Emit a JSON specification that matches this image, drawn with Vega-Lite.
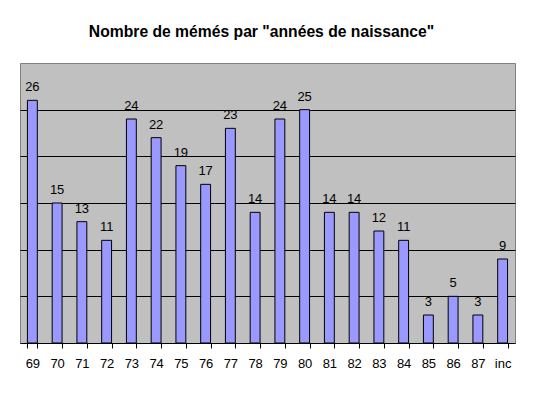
{
  "$schema": "https://vega.github.io/schema/vega-lite/v6.json",
  "width": 495,
  "height": 280,
  "autosize": {"type": "none"},
  "padding": {"left": 20, "top": 63, "right": 19, "bottom": 51},
  "background": "white",
  "title": {
    "text": "Nombre de mémés par \"années de naissance\"",
    "font": "Liberation Sans",
    "fontSize": 15.7,
    "fontWeight": "bold",
    "color": "black",
    "anchor": "middle",
    "dx": -6,
    "offset": 22
  },
  "config": {
    "view": {"fill": "#C0C0C0", "stroke": "#808080", "strokeWidth": 1},
    "font": "Liberation Sans"
  },
  "data": {
    "values": [
      {"annee": "69", "n": 26},
      {"annee": "70", "n": 15},
      {"annee": "71", "n": 13},
      {"annee": "72", "n": 11},
      {"annee": "73", "n": 24},
      {"annee": "74", "n": 22},
      {"annee": "75", "n": 19},
      {"annee": "76", "n": 17},
      {"annee": "77", "n": 23},
      {"annee": "78", "n": 14},
      {"annee": "79", "n": 24},
      {"annee": "80", "n": 25},
      {"annee": "81", "n": 14},
      {"annee": "82", "n": 14},
      {"annee": "83", "n": 12},
      {"annee": "84", "n": 11},
      {"annee": "85", "n": 3},
      {"annee": "86", "n": 5},
      {"annee": "87", "n": 3},
      {"annee": "inc", "n": 9}
    ]
  },
  "encoding": {
    "x": {
      "field": "annee",
      "type": "nominal",
      "sort": null,
      "scale": {"paddingInner": 0.6, "paddingOuter": 0.3},
      "axis": {
        "title": null,
        "labelAngle": 0,
        "labelFont": "Liberation Sans",
        "labelFontSize": 13,
        "labelColor": "black",
        "labelPadding": 9,
        "tickSize": 5,
        "tickColor": "black",
        "domainColor": "black",
        "tickBand": "extent",
        "grid": false
      }
    },
    "y": {
      "field": "n",
      "type": "quantitative",
      "scale": {"domain": [0, 30], "nice": false},
      "axis": {
        "title": null,
        "values": [5, 10, 15, 20, 25],
        "labels": false,
        "ticks": false,
        "domain": false,
        "grid": true,
        "gridColor": "black",
        "gridOpacity": 1,
        "gridWidth": 1
      }
    }
  },
  "layer": [
    {
      "mark": {"type": "bar", "color": "#9999FF", "stroke": "black", "strokeWidth": 1}
    },
    {
      "mark": {"type": "text", "baseline": "bottom", "dy": -6, "fontSize": 13, "font": "Liberation Sans", "color": "black"},
      "encoding": {"text": {"field": "n", "type": "quantitative"}}
    }
  ]
}
